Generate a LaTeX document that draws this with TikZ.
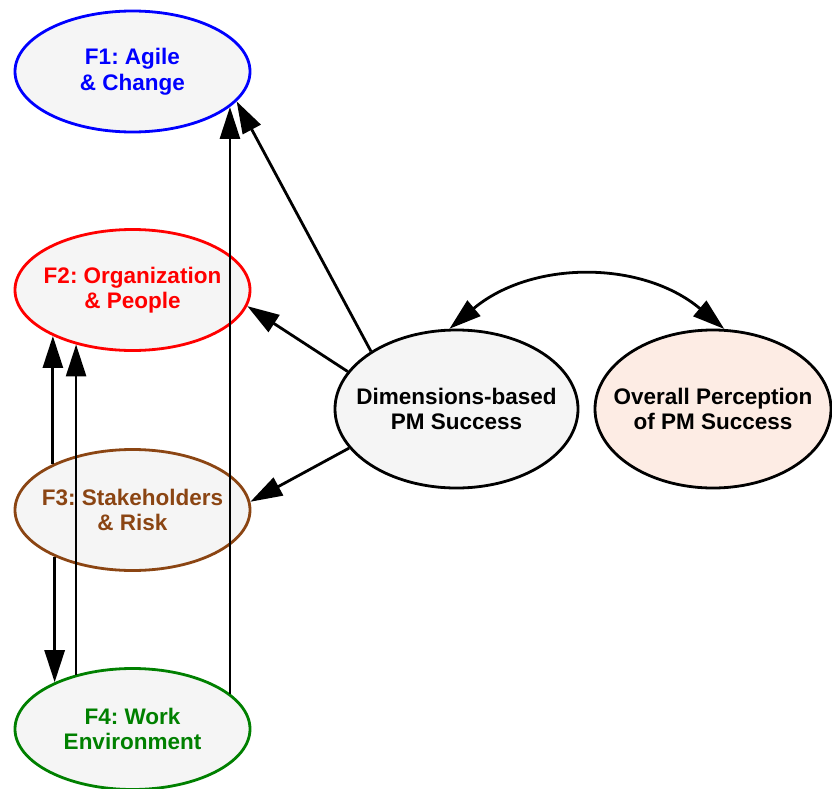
\documentclass[tikz,border=0pt]{standalone}
\usepackage{fontspec}
\setmainfont{Liberation Sans}
\frenchspacing
\usetikzlibrary{arrows.meta,shapes.geometric}
\definecolor{facfill}{RGB}{245,245,245}
\definecolor{ovrfill}{RGB}{253,236,228}
\definecolor{facbrown}{RGB}{139,69,19}
\definecolor{facgreen}{RGB}{0,128,0}
\tikzset{
	factor/.style={ellipse, draw, line width=2.8pt, fill=facfill, inner xsep=-30pt, inner ysep=0pt, align=center,
		font=\fontsize{22.5}{25.5}\selectfont\bfseries, minimum width=235pt, minimum height=121pt},
	arr/.style={line width=2.8pt, -{Triangle[length=32pt,width=20pt]}},
}

\begin{document}
\begin{tikzpicture}[x=1pt, y=-1pt]
		%%%%% START %%%%%
		\useasboundingbox (0, 0) rectangle (832, 789);
		
		\node[factor, draw=blue, text=blue] (f1) at (132.5, 71.5) {F1: Agile\\\& Change};
		\node[factor, draw=red, text=red] (f2) at (132.5, 290) {F2: Organization\\\& People};
		\node[factor, draw=facbrown, text=facbrown] (f3) at (132.5, 510) {F3: Stakeholders\\\& Risk};
		\node[factor, draw=facgreen, text=facgreen] (f4) at (132.5, 729) {F4: Work\\Environment};
		
		\node[factor, draw=black, minimum width=243pt, minimum height=158pt] (dim) at (456.5, 409) {Dimensions-based\\PM Success};
		\node[factor, draw=black, fill=ovrfill, minimum width=236pt, minimum height=158pt] (ovr) at (713, 409) {Overall Perception\\of PM Success};
		
		\draw[arr] (dim.146.6) -- (f1.-16.6);
		\draw[arr] (dim.161.8) -- (f2.-8.4);
		\draw[arr] (dim.-160.9) -- (f3.4.9);
		
		\draw[arr] (f4.20.5) -- (f1.-20.5);
		\draw[arr] (f3.150.2) -- (f2.-150.9);
		\draw[arr] (f4.136) -- (f2.-136.4);
		\draw[arr] (f3.-149) -- (f4.149.4);
		
		\draw[arr, {Triangle[length=32pt,width=20pt]}-{Triangle[length=32pt,width=20pt]}] (dim.95) to[bend left=40] (ovr.82);
		
		%%%%% END %%%%%
	\end{tikzpicture}
\end{document}
